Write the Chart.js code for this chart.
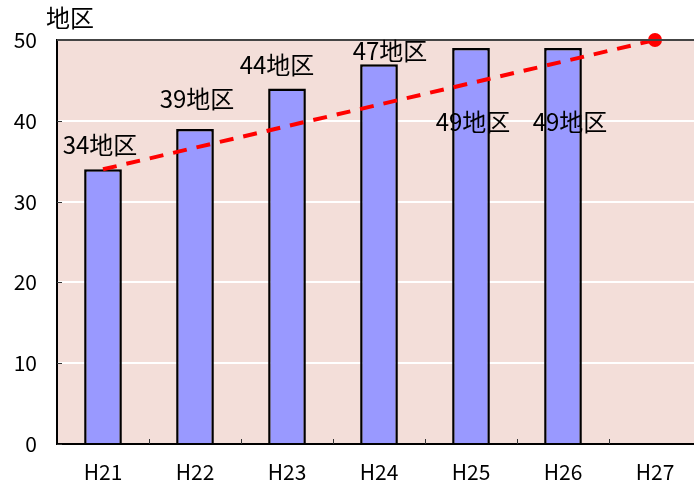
<!DOCTYPE html>
<html>
<head>
<meta charset="utf-8">
<script src="https://cdn.jsdelivr.net/npm/chart.js@4"></script>
<style>
  html, body { margin: 0; padding: 0; background: #fff; overflow: hidden; }
  #wrap { width: 701px; height: 489px; }
</style>
</head>
<body>
<div id="wrap"><canvas id="area-chart"></canvas></div>
<script>
const years = ["H21", "H22", "H23", "H24", "H25", "H26", "H27"];
const districts = [34, 39, 44, 47, 49, 49, null];
const target = [34, null, null, null, null, null, 50];
const yTicks = [0, 10, 20, 30, 40, 50];

// label nudges in px (dx, dy) relative to the top of each bar
const labelNudge = [[-3, -24], [2, -30], [-10, -24], [11, -13], [2, 74], [7, 74]];

const FONT = "'Noto Sans CJK JP', 'Noto Sans', sans-serif";

(function () {
    'use strict'

    let plotBack = {
        id: "plotBack",
        beforeDraw(chart) {
            let { ctx, chartArea: a } = chart;
            ctx.save();
            ctx.fillStyle = "#F3DED9";
            ctx.fillRect(a.left, a.top, a.right - a.left, a.bottom - a.top);
            ctx.restore();
        },
        beforeDatasetsDraw(chart) {
            let { ctx, chartArea: a, scales } = chart;
            ctx.save();
            ctx.strokeStyle = "#333";
            ctx.lineWidth = 1;
            ctx.beginPath();
            // small inside tick marks
            for (let i = 1; i < years.length; i++) {
                let x = Math.round((scales.x.getPixelForValue(i - 1) + scales.x.getPixelForValue(i)) / 2) + 0.5;
                ctx.moveTo(x, a.bottom);
                ctx.lineTo(x, a.bottom - 5);
            }
            yTicks.forEach(v => {
                let y = Math.round(scales.y.getPixelForValue(v)) + 0.5;
                ctx.moveTo(a.left, y);
                ctx.lineTo(a.left + 5, y);
            });
            ctx.stroke();
            ctx.restore();
        },
        afterDatasetsDraw(chart) {
            let { ctx, chartArea: a, scales } = chart;
            ctx.save();
            // top border
            ctx.strokeStyle = "#444";
            ctx.lineWidth = 2;
            ctx.beginPath();
            ctx.moveTo(a.left, a.top);
            ctx.lineTo(a.right, a.top);
            ctx.stroke();
            // bar labels
            ctx.fillStyle = "#000";
            ctx.font = "24px " + FONT;
            ctx.textAlign = "center";
            ctx.textBaseline = "middle";
            districts.forEach((v, i) => {
                if (v == null) return;
                let x = scales.x.getPixelForValue(i) + labelNudge[i][0];
                let y = scales.y.getPixelForValue(v) + labelNudge[i][1];
                ctx.fillText(`${v}地区`, x, y);
            });
            // unit title
            ctx.fillText("地区", 70, 18);
            ctx.restore();
        }
    };

    let canvas = document.getElementById("area-chart");
    let config = {
        type: "bar",
        data: {
            labels: years,
            datasets: [
                {
                    type: "line",
                    data: target,
                    borderColor: "#FF0000",
                    backgroundColor: "#FF0000",
                    borderWidth: 4,
                    borderDash: [14, 10],
                    spanGaps: true,
                    clip: false,
                    pointRadius: target.map((v, i) => i == target.length - 1 ? 7 : 0),
                    pointBorderWidth: 0,
                    order: 0
                },
                {
                    data: districts,
                    backgroundColor: "#9999FF",
                    borderColor: "#000",
                    borderWidth: 2.5,
                    barPercentage: 0.41,
                    categoryPercentage: 1,
                    order: 1
                }
            ]
        },
        options: {
            responsive: true,
            maintainAspectRatio: false,
            animation: false,
            layout: {
                autoPadding: false,
                padding: { top: 40, right: 0, left: 0, bottom: 0 }
            },
            plugins: {
                legend: { display: false },
                tooltip: { enabled: false }
            },
            scales: {
                y: {
                    min: 0,
                    max: 50,
                    afterBuildTicks: axis => { axis.ticks = yTicks.map(v => ({ value: v })) },
                    afterFit: axis => { axis.width = 57 },
                    grid: {
                        color: "#FFFFFF",
                        lineWidth: 2,
                        drawTicks: false
                    },
                    border: { color: "#000", width: 2 },
                    ticks: {
                        color: "#000",
                        padding: 20,
                        font: { size: 21, family: FONT }
                    }
                },
                x: {
                    afterFit: axis => { axis.height = 45 },
                    grid: { display: false, drawTicks: false },
                    border: { color: "#000", width: 2 },
                    ticks: {
                        color: "#000",
                        padding: 15,
                        font: { size: 21, family: FONT }
                    }
                }
            }
        },
        plugins: [plotBack]
    };

    let chart = new Chart(canvas, config);
})()
</script>
</body>
</html>
